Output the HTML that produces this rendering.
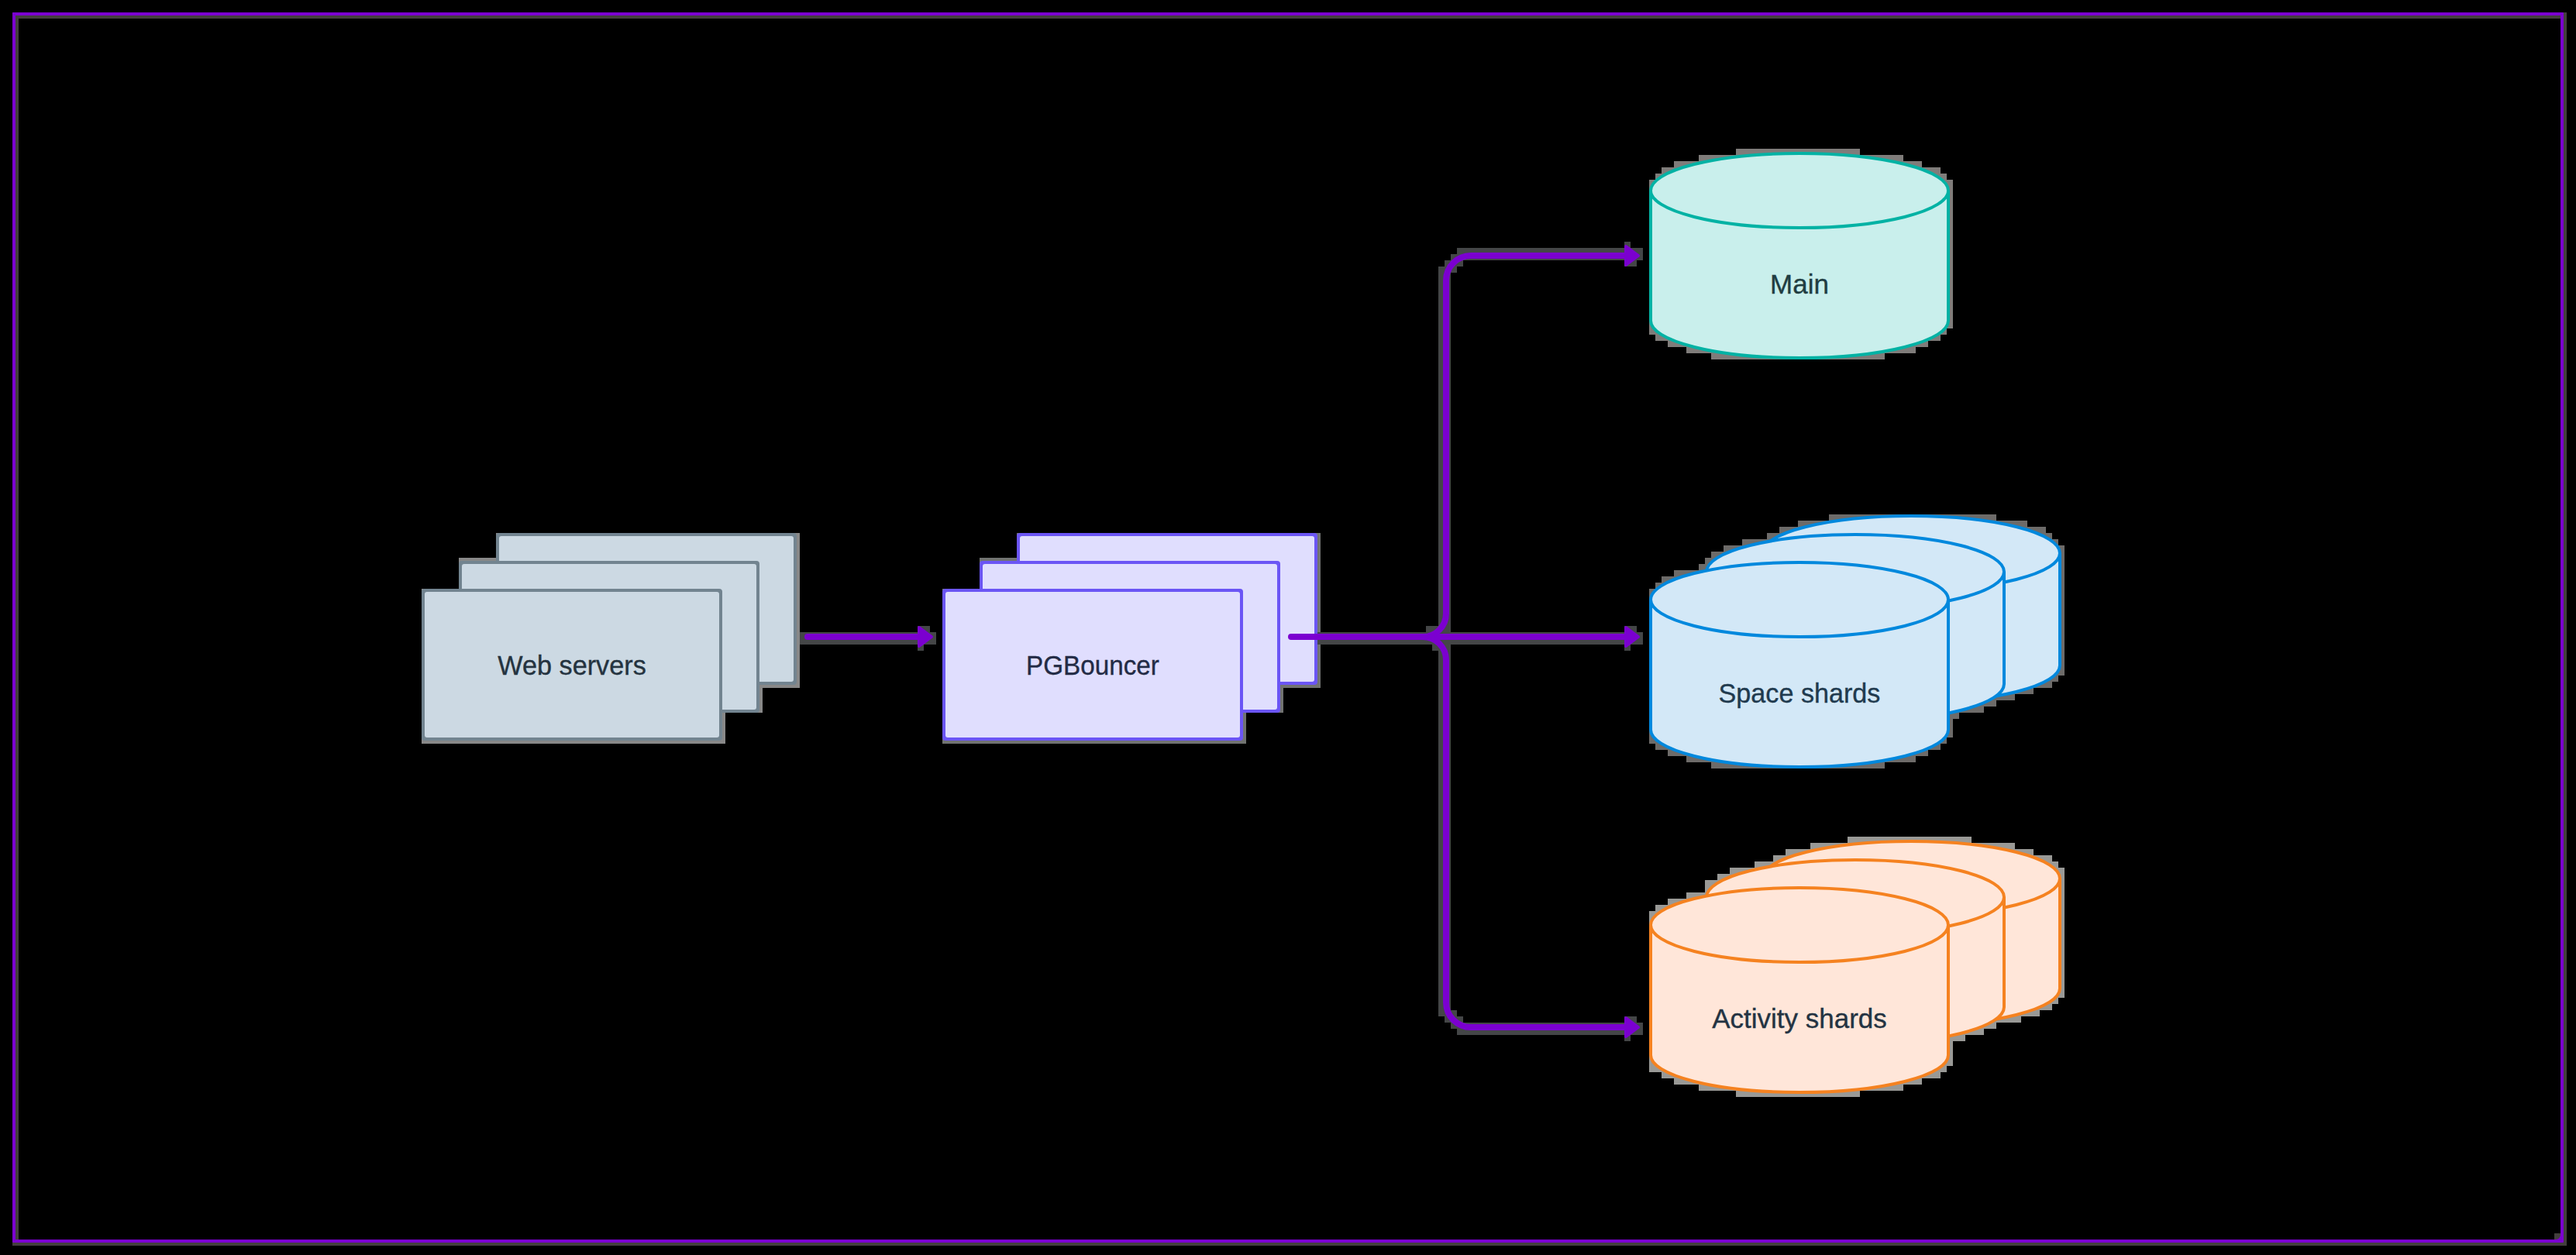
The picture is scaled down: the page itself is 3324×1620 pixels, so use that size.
<!DOCTYPE html><html><head><meta charset="utf-8"><style>html,body{margin:0;padding:0;background:#000;overflow:hidden}svg{display:block}</style></head><body><svg width="3324" height="1620" viewBox="0 0 3324 1620"><rect width="3324" height="1620" fill="#000"/><g fill="#433f3d"><rect x="16" y="16" width="3296" height="8"/><rect x="16" y="1600" width="3296" height="8"/><rect x="16" y="24" width="8" height="1576"/><rect x="3304" y="24" width="8" height="1568"/><rect x="3296" y="1592" width="16" height="8"/></g><g fill="#888888"><rect x="640" y="688" width="392" height="32"/><rect x="592" y="720" width="440" height="40"/><rect x="544" y="760" width="488" height="128"/><rect x="544" y="888" width="440" height="32"/><rect x="544" y="920" width="392" height="40"/></g><g fill="#717371"><rect x="1312" y="688" width="392" height="32"/><rect x="1264" y="720" width="440" height="40"/><rect x="1216" y="760" width="488" height="128"/><rect x="1216" y="888" width="440" height="32"/><rect x="1216" y="920" width="392" height="40"/></g><g fill="#444647"><rect x="2096" y="312" width="8" height="8"/><rect x="2096" y="832" width="8" height="8"/><rect x="2096" y="1336" width="8" height="8"/><rect x="1880" y="320" width="240" height="8"/><rect x="1880" y="1328" width="240" height="8"/><rect x="1872" y="328" width="248" height="8"/><rect x="1872" y="1320" width="248" height="8"/><rect x="1864" y="336" width="24" height="8"/><rect x="1864" y="1312" width="24" height="8"/><rect x="2096" y="336" width="16" height="8"/><rect x="2096" y="808" width="16" height="8"/><rect x="2096" y="1312" width="16" height="8"/><rect x="1856" y="344" width="24" height="8"/><rect x="1856" y="1304" width="24" height="8"/><rect x="1856" y="352" width="16" height="456"/><rect x="1856" y="840" width="16" height="464"/><rect x="1184" y="808" width="16" height="8"/><rect x="1840" y="808" width="32" height="8"/><rect x="1032" y="816" width="176" height="16"/><rect x="1656" y="816" width="464" height="16"/><rect x="1184" y="832" width="8" height="8"/><rect x="1848" y="832" width="24" height="8"/></g><g fill="#7f7c7a"><rect x="2240" y="192" width="160" height="8"/><rect x="2192" y="200" width="264" height="8"/><rect x="2160" y="208" width="320" height="8"/><rect x="2144" y="216" width="360" height="8"/><rect x="2136" y="224" width="376" height="8"/><rect x="2128" y="232" width="392" height="192"/><rect x="2128" y="424" width="384" height="8"/><rect x="2136" y="432" width="368" height="8"/><rect x="2152" y="440" width="336" height="8"/><rect x="2176" y="448" width="296" height="8"/><rect x="2208" y="456" width="224" height="8"/></g><g fill="#6d6b69"><rect x="2360" y="664" width="216" height="8"/><rect x="2320" y="672" width="296" height="8"/><rect x="2296" y="680" width="344" height="8"/><rect x="2280" y="688" width="368" height="8"/><rect x="2248" y="696" width="408" height="8"/><rect x="2224" y="704" width="440" height="8"/><rect x="2208" y="712" width="456" height="8"/><rect x="2200" y="720" width="464" height="8"/><rect x="2192" y="728" width="472" height="8"/><rect x="2160" y="736" width="504" height="8"/><rect x="2144" y="744" width="520" height="8"/><rect x="2136" y="752" width="528" height="8"/><rect x="2128" y="760" width="536" height="112"/><rect x="2128" y="872" width="528" height="8"/><rect x="2128" y="880" width="520" height="8"/><rect x="2128" y="888" width="496" height="8"/><rect x="2128" y="896" width="472" height="8"/><rect x="2128" y="904" width="448" height="8"/><rect x="2128" y="912" width="432" height="8"/><rect x="2128" y="920" width="400" height="8"/><rect x="2128" y="928" width="392" height="24"/><rect x="2128" y="952" width="384" height="8"/><rect x="2136" y="960" width="368" height="8"/><rect x="2152" y="968" width="336" height="8"/><rect x="2176" y="976" width="296" height="8"/><rect x="2208" y="984" width="224" height="8"/></g><g fill="#999996"><rect x="2384" y="1080" width="160" height="8"/><rect x="2336" y="1088" width="264" height="8"/><rect x="2304" y="1096" width="320" height="8"/><rect x="2288" y="1104" width="360" height="8"/><rect x="2264" y="1112" width="392" height="8"/><rect x="2232" y="1120" width="432" height="8"/><rect x="2216" y="1128" width="448" height="8"/><rect x="2200" y="1136" width="464" height="16"/><rect x="2176" y="1152" width="488" height="8"/><rect x="2152" y="1160" width="512" height="8"/><rect x="2136" y="1168" width="528" height="8"/><rect x="2128" y="1176" width="536" height="112"/><rect x="2128" y="1288" width="528" height="8"/><rect x="2128" y="1296" width="520" height="8"/><rect x="2128" y="1304" width="504" height="8"/><rect x="2128" y="1312" width="480" height="8"/><rect x="2128" y="1320" width="448" height="8"/><rect x="2128" y="1328" width="432" height="8"/><rect x="2128" y="1336" width="408" height="8"/><rect x="2128" y="1344" width="392" height="32"/><rect x="2128" y="1376" width="384" height="8"/><rect x="2144" y="1384" width="360" height="8"/><rect x="2160" y="1392" width="320" height="8"/><rect x="2192" y="1400" width="264" height="8"/><rect x="2240" y="1408" width="160" height="8"/></g><path fill-rule="evenodd" fill="#7b00d0" d="M17,16 H3307 Q3308,16 3308,17 V1603 Q3308,1604 3307,1604 H17 Q16,1604 16,1603 V17 Q16,16 17,16 Z M20,20 H3304 V1594 A6,6 0 0 1 3298,1600 H20 Z"/><rect x="640" y="688" width="388" height="196" rx="4" fill="#728490"/><rect x="644" y="692" width="380" height="188" rx="3" fill="#ccd9e3"/><rect x="592" y="724" width="388" height="196" rx="4" fill="#728490"/><rect x="596" y="728" width="380" height="188" rx="3" fill="#ccd9e3"/><rect x="544" y="760" width="388" height="196" rx="4" fill="#728490"/><rect x="548" y="764" width="380" height="188" rx="3" fill="#ccd9e3"/><text transform="translate(738,871) scale(0.979,1)" text-anchor="middle" font-family='"Liberation Sans", sans-serif' font-size="35" fill="#24333f" stroke="#24333f" stroke-width="0.35">Web servers</text><rect x="1312" y="688" width="388" height="196" rx="4" fill="#6b55f5"/><rect x="1316" y="692" width="380" height="188" rx="3" fill="#e0defe"/><rect x="1264" y="724" width="388" height="196" rx="4" fill="#6b55f5"/><rect x="1268" y="728" width="380" height="188" rx="3" fill="#e0defe"/><rect x="1216" y="760" width="388" height="196" rx="4" fill="#6b55f5"/><rect x="1220" y="764" width="380" height="188" rx="3" fill="#e0defe"/><text transform="translate(1410,871) scale(0.95,1)" text-anchor="middle" font-family='"Liberation Sans", sans-serif' font-size="35" fill="#232b45" stroke="#232b45" stroke-width="0.35">PGBouncer</text><path d="M1042,822 H1190" fill="none" stroke="#7b00d0" stroke-width="8" stroke-linecap="round"/><path d="M1186,810 L1202,822 L1186,834 Z" fill="#7b00d0" stroke="#7b00d0" stroke-width="4" stroke-linejoin="round"/><path d="M1666,822 H2100" fill="none" stroke="#7b00d0" stroke-width="8" stroke-linecap="round"/><path d="M2098,810 L2114,822 L2098,834 Z" fill="#7b00d0" stroke="#7b00d0" stroke-width="4" stroke-linejoin="round"/><path d="M1836,822 A30,30 0 0 0 1866,792 V362 A32,32 0 0 1 1898,330 H2100" fill="none" stroke="#7b00d0" stroke-width="8"/><path d="M2098,318 L2114,330 L2098,342 Z" fill="#7b00d0" stroke="#7b00d0" stroke-width="4" stroke-linejoin="round"/><path d="M1836,822 A30,30 0 0 1 1866,852 V1294 A32,32 0 0 0 1898,1326 H2100" fill="none" stroke="#7b00d0" stroke-width="8"/><path d="M2098,1314 L2114,1326 L2098,1338 Z" fill="#7b00d0" stroke="#7b00d0" stroke-width="4" stroke-linejoin="round"/><path d="M2130,246 A192.0,48 0 0 1 2514,246 V414 A192.0,48 0 0 1 2130,414 Z" fill="#c9efec" stroke="#03b2a4" stroke-width="4"/><path d="M2130,246 A192.0,48 0 0 0 2514,246" fill="none" stroke="#03b2a4" stroke-width="4"/><text transform="translate(2322,378.5) scale(1.0,1)" text-anchor="middle" font-family='"Liberation Sans", sans-serif' font-size="35" fill="#1f3d42" stroke="#1f3d42" stroke-width="0.35">Main</text><path d="M2274,714 A192.0,48 0 0 1 2658,714 V859 A192.0,48 0 0 1 2274,859 Z" fill="#d3e8f7" stroke="#0088dd" stroke-width="4"/><path d="M2274,714 A192.0,48 0 0 0 2658,714" fill="none" stroke="#0088dd" stroke-width="4"/><path d="M2202,738 A192.0,48 0 0 1 2586,738 V883 A192.0,48 0 0 1 2202,883 Z" fill="#d3e8f7" stroke="#0088dd" stroke-width="4"/><path d="M2202,738 A192.0,48 0 0 0 2586,738" fill="none" stroke="#0088dd" stroke-width="4"/><path d="M2130,774 A192.0,48 0 0 1 2514,774 V942 A192.0,48 0 0 1 2130,942 Z" fill="#d3e8f7" stroke="#0088dd" stroke-width="4"/><path d="M2130,774 A192.0,48 0 0 0 2514,774" fill="none" stroke="#0088dd" stroke-width="4"/><text transform="translate(2322,907) scale(0.976,1)" text-anchor="middle" font-family='"Liberation Sans", sans-serif' font-size="35" fill="#1f3a4e" stroke="#1f3a4e" stroke-width="0.35">Space shards</text><path d="M2274,1134 A192.0,48 0 0 1 2658,1134 V1276 A192.0,48 0 0 1 2274,1276 Z" fill="#ffe6d9" stroke="#f58220" stroke-width="4"/><path d="M2274,1134 A192.0,48 0 0 0 2658,1134" fill="none" stroke="#f58220" stroke-width="4"/><path d="M2202,1158 A192.0,48 0 0 1 2586,1158 V1300 A192.0,48 0 0 1 2202,1300 Z" fill="#ffe6d9" stroke="#f58220" stroke-width="4"/><path d="M2202,1158 A192.0,48 0 0 0 2586,1158" fill="none" stroke="#f58220" stroke-width="4"/><path d="M2130,1194 A192.0,48 0 0 1 2514,1194 V1362 A192.0,48 0 0 1 2130,1362 Z" fill="#ffe6d9" stroke="#f58220" stroke-width="4"/><path d="M2130,1194 A192.0,48 0 0 0 2514,1194" fill="none" stroke="#f58220" stroke-width="4"/><text transform="translate(2322,1327) scale(1.0,1)" text-anchor="middle" font-family='"Liberation Sans", sans-serif' font-size="35" fill="#233342" stroke="#233342" stroke-width="0.35">Activity shards</text></svg></body></html>
